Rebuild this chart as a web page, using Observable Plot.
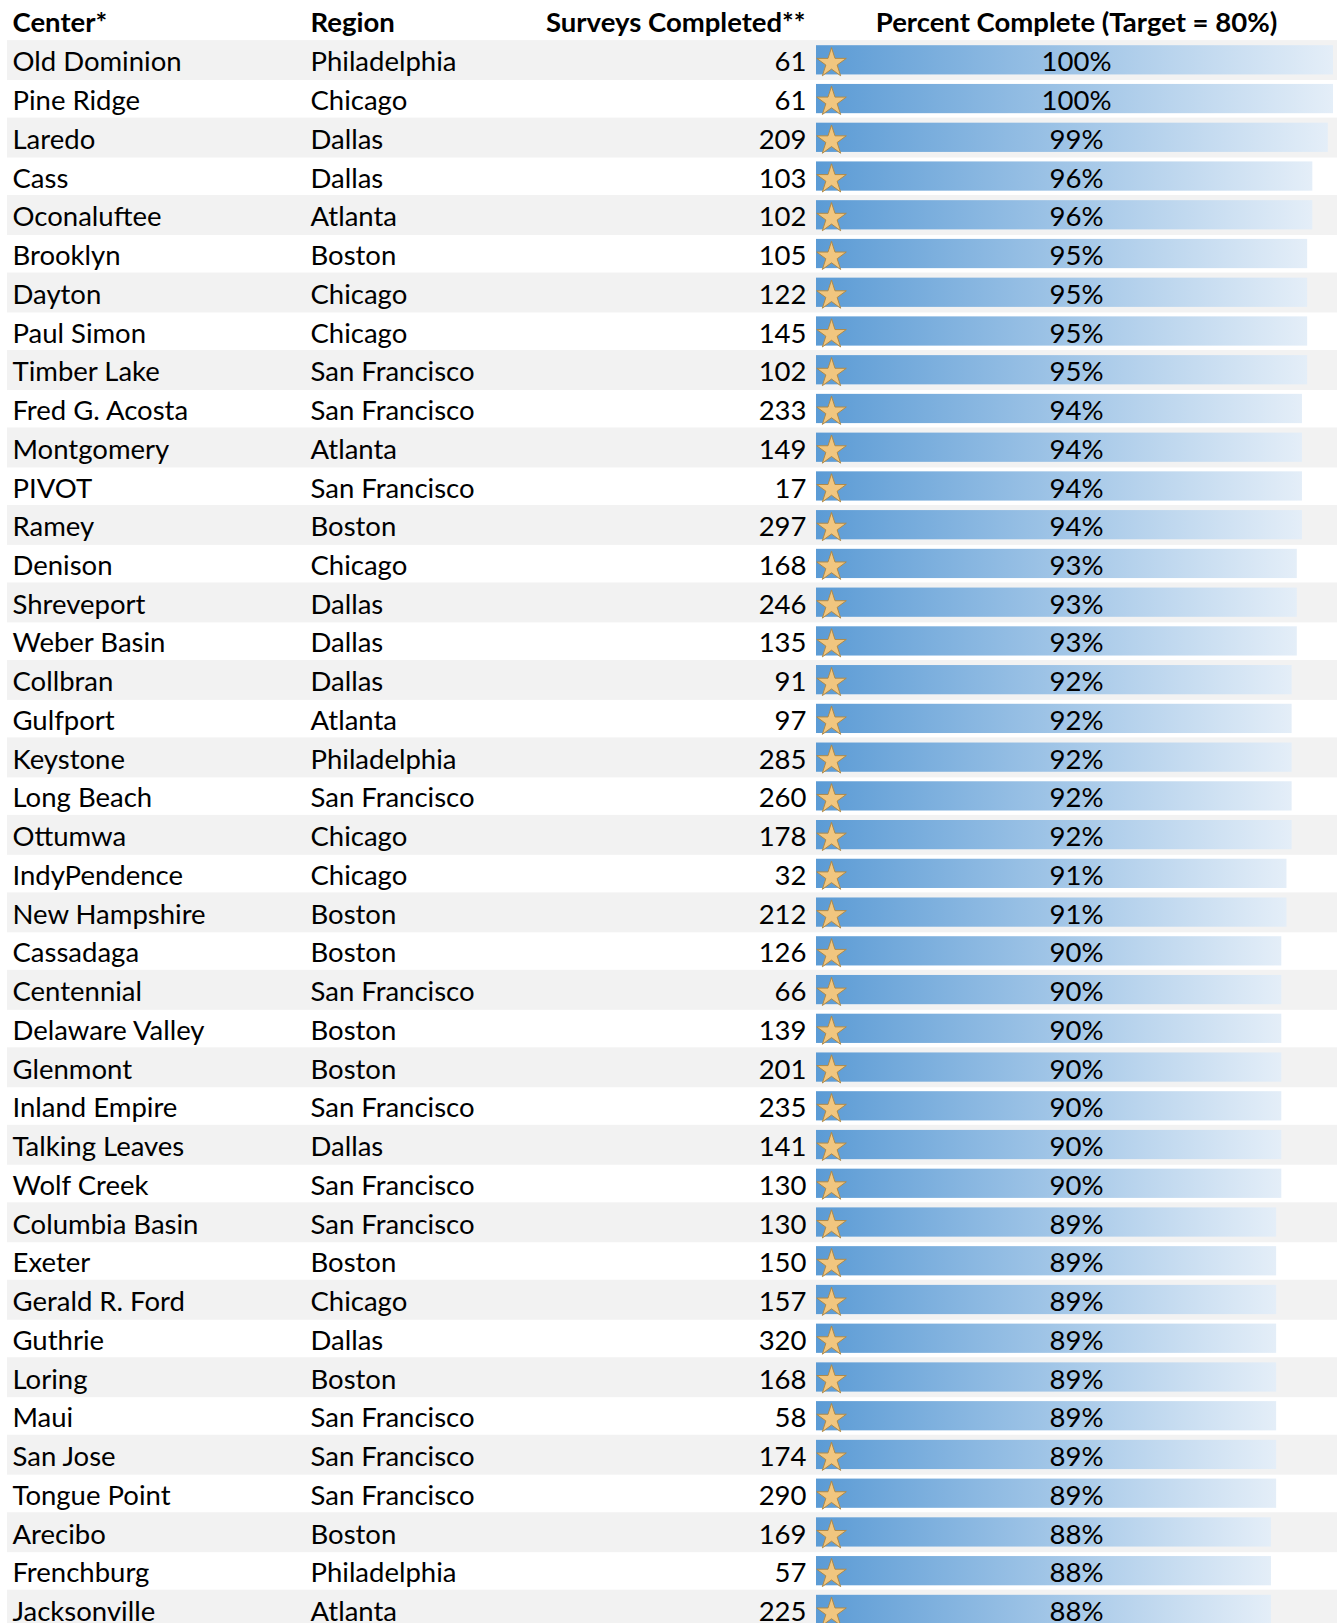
<!DOCTYPE html>
<html>
<head>
<meta charset="utf-8">
<script src="https://cdn.jsdelivr.net/npm/d3@7"></script>
<script src="https://cdn.jsdelivr.net/npm/@observablehq/plot@0.6"></script>
<style>
html, body { margin: 0; padding: 0; overflow: hidden; background: #fff; }
#chart svg { display: block; }
</style>
</head>
<body>
<div id="chart"></div>
<script>
// ---- data ----
const headers = ["Center*", "Region", "Surveys Completed**", "Percent Complete (Target = 80%)"];
const centers = ["Old Dominion","Pine Ridge","Laredo","Cass","Oconaluftee","Brooklyn","Dayton","Paul Simon","Timber Lake","Fred G. Acosta","Montgomery","PIVOT","Ramey","Denison","Shreveport","Weber Basin","Collbran","Gulfport","Keystone","Long Beach","Ottumwa","IndyPendence","New Hampshire","Cassadaga","Centennial","Delaware Valley","Glenmont","Inland Empire","Talking Leaves","Wolf Creek","Columbia Basin","Exeter","Gerald R. Ford","Guthrie","Loring","Maui","San Jose","Tongue Point","Arecibo","Frenchburg","Jacksonville"];
const regions = ["Philadelphia","Chicago","Dallas","Dallas","Atlanta","Boston","Chicago","Chicago","San Francisco","San Francisco","Atlanta","San Francisco","Boston","Chicago","Dallas","Dallas","Dallas","Atlanta","Philadelphia","San Francisco","Chicago","Chicago","Boston","Boston","San Francisco","Boston","Boston","San Francisco","Dallas","San Francisco","San Francisco","Boston","Chicago","Dallas","Boston","San Francisco","San Francisco","San Francisco","Boston","Philadelphia","Atlanta"];
const surveys = [61,61,209,103,102,105,122,145,102,233,149,17,297,168,246,135,91,97,285,260,178,32,212,126,66,139,201,235,141,130,130,150,157,320,168,58,174,290,169,57,225];
const percents = [100,100,99,96,96,95,95,95,95,94,94,94,94,93,93,93,92,92,92,92,92,91,91,90,90,90,90,90,90,90,89,89,89,89,89,89,89,89,88,88,88];
const target = 80;

const rows = centers.map((c, i) => ({
  idx: i, center: c, region: regions[i], surveys: surveys[i], pct: percents[i]
}));

// ---- layout ----
const W = 1337, H = 1623;
const top0 = 40.7, pitch = 38.74;
const font = "Lato, 'Open Sans', sans-serif";
const fs = 27.5;

const yDomain = rows.map(d => d.idx);

const plot = Plot.plot({
  width: W,
  height: H,
  marginTop: 41, marginBottom: 0, marginLeft: 0, marginRight: 0,
  style: { fontFamily: font, fontSize: fs + "px", color: "#000", background: "#fff" },
  x: { domain: [0, 100], range: [816, 1333], axis: null },
  y: { type: "band", domain: yDomain, range: [top0, top0 + rows.length * pitch], padding: 0, axis: null },
  marks: [
    // alternating row shading
    Plot.cell(rows.filter(d => d.idx % 2 === 0), {y: "idx", fill: "#f2f2f2", insetLeft: 7, insetTop: -0.6, insetBottom: -0.6}),
    // data bars
    Plot.barX(rows, {y: "idx", x1: () => 0, x2: "pct", fill: "url(#bargrad)", insetTop: 4.5, insetBottom: 5}),
    // star icons (percent >= target)
    Plot.dot(rows.filter(d => d.pct >= target), {y: "idx", frameAnchor: "left", dx: 831, dy: 2.6, symbol: "star", r: 9.3, fill: "#f1c67f", stroke: "#b08a48", strokeWidth: 1}),
    // text columns
    Plot.text(rows, {y: "idx", text: "center", frameAnchor: "left", dx: 12, dy: 2, textAnchor: "start", fill: "#000"}),
    Plot.text(rows, {y: "idx", text: "region", frameAnchor: "left", dx: 310, dy: 2, textAnchor: "start", fill: "#000"}),
    Plot.text(rows, {y: "idx", text: d => String(d.surveys), frameAnchor: "left", dx: 806, dy: 2, textAnchor: "end", fill: "#000"}),
    Plot.text(rows, {y: "idx", text: d => Math.round(d.pct) + "%", frameAnchor: "left", dx: 1076, dy: 2, textAnchor: "middle", fill: "#000"}),
    // headers
    Plot.text([headers[0]], {frameAnchor: "top-left", lineAnchor: "middle", dx: 12, dy: -18, textAnchor: "start", fontWeight: "bold", fill: "#000"}),
    Plot.text([headers[1]], {frameAnchor: "top-left", lineAnchor: "middle", dx: 310, dy: -18, textAnchor: "start", fontWeight: "bold", fill: "#000"}),
    Plot.text([headers[2]], {frameAnchor: "top-left", lineAnchor: "middle", dx: 805, dy: -18, textAnchor: "end", fontWeight: "bold", fill: "#000"}),
    Plot.text([headers[3]], {frameAnchor: "top-left", lineAnchor: "middle", dx: 1076, dy: -18, textAnchor: "middle", fontWeight: "bold", fill: "#000"})
  ]
});

// gradient definition for the data bars (per-bar, object bounding box)
const ns = "http://www.w3.org/2000/svg";
const defs = document.createElementNS(ns, "defs");
const grad = document.createElementNS(ns, "linearGradient");
grad.setAttribute("id", "bargrad");
grad.setAttribute("x1", "0"); grad.setAttribute("x2", "1");
grad.setAttribute("y1", "0"); grad.setAttribute("y2", "0");
[["0", "#5b9bd5"], ["1", "#e4eef8"]].forEach(([o, c]) => {
  const s = document.createElementNS(ns, "stop");
  s.setAttribute("offset", o); s.setAttribute("stop-color", c);
  grad.appendChild(s);
});
defs.appendChild(grad);
plot.insertBefore(defs, plot.firstChild);

document.getElementById("chart").appendChild(plot);
</script>
</body>
</html>
